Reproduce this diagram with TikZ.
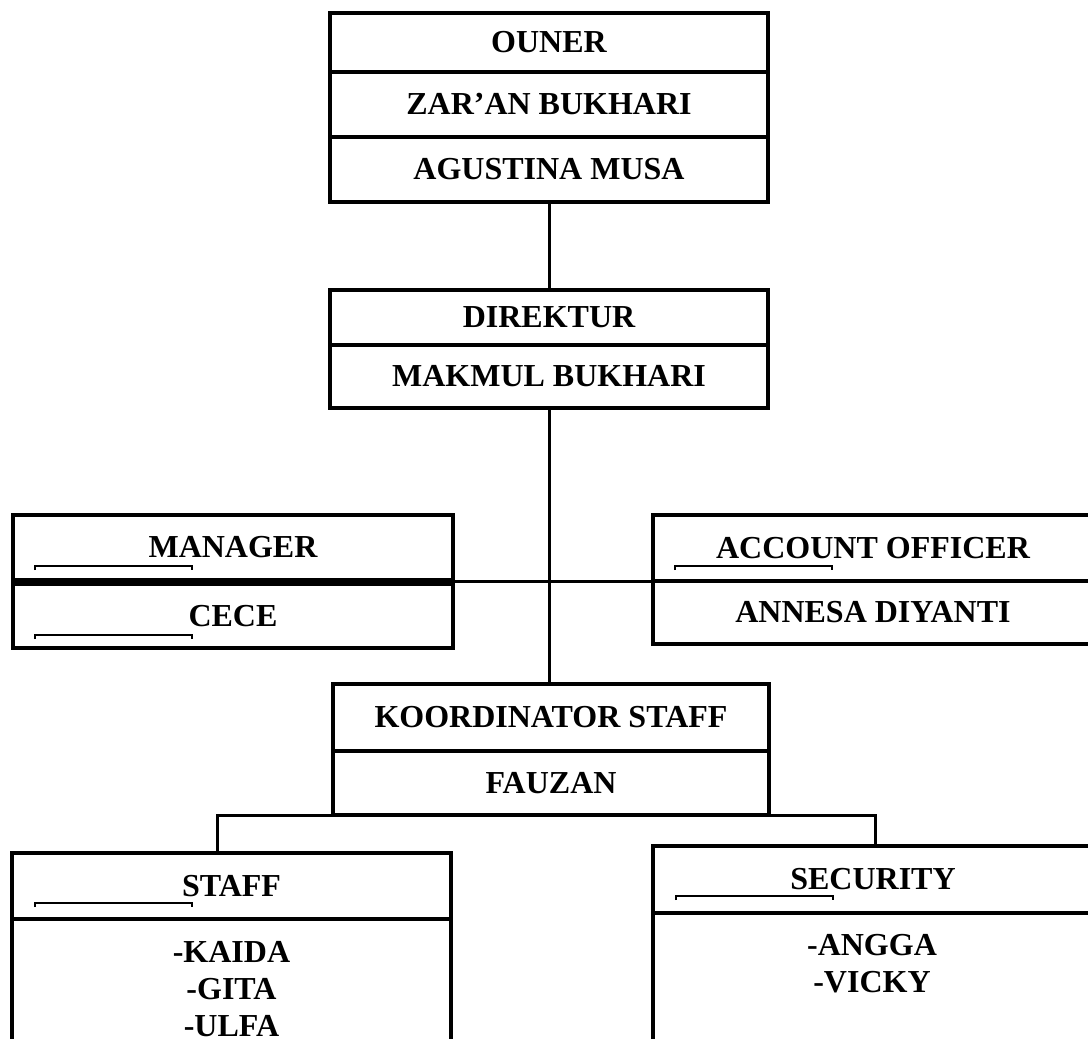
\documentclass[tikz,border=0pt]{standalone}
\usepackage{fontspec}
\setmainfont{Liberation Serif}

\begin{document}
\begin{tikzpicture}[x=1pt, y=-1pt,
    every node/.style={font=\fontsize{32}{37}\selectfont\bfseries},
    cell/.style={draw, line width=3.5pt, inner sep=0pt, outer sep=0pt, align=center},
    conn/.style={line width=3pt},
    tabmark/.style={line width=2pt}]
  \useasboundingbox (0,0) rectangle (1088,1039);
  \clip (0,0) rectangle (1088,1039);

  % owner
  \node[cell, minimum width=438pt, minimum height=59pt] (ouner) at (549,42.5) {OUNER};
  \node[cell, minimum width=438pt, minimum height=65pt] (zaran) at (549,104.5) {ZAR’AN BUKHARI};
  \node[cell, minimum width=438pt, minimum height=65pt] (agustina) at (549,169.5) {AGUSTINA MUSA};

  % direktur
  \node[cell, minimum width=438pt, minimum height=55pt] (direktur) at (549,317.5) {DIREKTUR};
  \node[cell, minimum width=438pt, minimum height=63pt] (makmul) at (549,376.5) {MAKMUL BUKHARI};

  % manager and account officer
  \node[cell, minimum width=440pt, minimum height=65pt] (manager) at (233,547.5) {MANAGER};
  \node[cell, minimum width=440pt, minimum height=64pt] (cece) at (233,616) {CECE};
  \node[cell, minimum width=440pt, minimum height=66pt] (account) at (873,548) {ACCOUNT OFFICER};
  \node[cell, minimum width=440pt, minimum height=63pt] (annesa) at (873,612.5) {ANNESA DIYANTI};

  % koordinator
  \node[cell, minimum width=436pt, minimum height=67pt] (koord) at (551,717.5) {KOORDINATOR STAFF};
  \node[cell, minimum width=436pt, minimum height=64pt] (fauzan) at (551,783) {FAUZAN};

  % staff and security
  \node[cell, minimum width=439pt, minimum height=66pt] (staff) at (231.5,886) {STAFF};
  \node[cell, minimum width=439pt, minimum height=200pt, anchor=north] (staffbody) at (staff.south) {};
  \node[align=center] (staffnames) at (231.5,989) {-KAIDA\\-GITA\\-ULFA};
  \node[cell, minimum width=440pt, minimum height=67pt] (security) at (873,879.5) {SECURITY};
  \node[cell, minimum width=440pt, minimum height=200pt, anchor=north] (secbody) at (security.south) {};
  \node[align=center] (secnames) at (872,963.5) {-ANGGA\\-VICKY};

  % connectors
  \coordinate (staffin) at (217,853);
  \coordinate (secin) at (875,846);
  \draw[conn] (agustina.south) -- (direktur.north);
  \draw[conn] (makmul.south) -- (makmul.south |- koord.north);
  \draw[conn] (account.south west) -- (account.south west -| manager.east);
  \draw[conn] (fauzan.south west) -| (staffin);
  \draw[conn] (fauzan.south east) -| (secin);

  % tab stop marks
  \foreach \tx/\ty in {35/566, 35/635, 675/566, 35/903, 676/896}
    \draw[tabmark] (\tx,\ty+4) -- (\tx,\ty) -- (\tx+157,\ty) -- (\tx+157,\ty+4);
\end{tikzpicture}
\end{document}
